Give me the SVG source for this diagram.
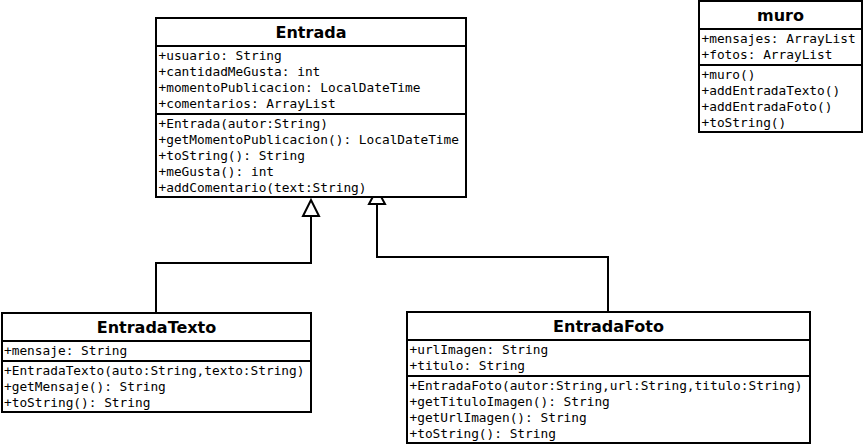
<svg xmlns="http://www.w3.org/2000/svg" width="865" height="446" viewBox="0 0 865 446">
<style>
.box{fill:#fff;stroke:#000;stroke-width:2}
.sep{stroke:#000;stroke-width:2}
.t{font-family:"DejaVu Sans",sans-serif;font-weight:bold;font-size:16px;text-anchor:middle}
.m{font-family:"DejaVu Sans Mono",monospace;font-size:12.8px}
.c{fill:none;stroke:#000;stroke-width:2}
.ah{fill:#fff;stroke:#000;stroke-width:2}
</style>
<rect width="865" height="446" fill="#fff"/>
<g id="connectors">
<path class="c" d="M156,313 V263 H311 V216"/>
<polygon class="ah" points="311,200 303,216 319,216"/>
<path class="c" d="M608,312 V257 H377 V204"/>
<polygon class="ah" points="377,189 369,204 385,204"/>
</g>
<g id="Entrada">
<rect class="box" x="156" y="18" width="310" height="179"/>
<line class="sep" x1="156" y1="46" x2="466" y2="46"/>
<line class="sep" x1="156" y1="114" x2="466" y2="114"/>
<text class="t" x="311" y="38">Entrada</text>
<text class="m" x="158.5" y="60">+usuario: String</text>
<text class="m" x="158.5" y="76">+cantidadMeGusta: int</text>
<text class="m" x="158.5" y="92">+momentoPublicacion: LocalDateTime</text>
<text class="m" x="158.5" y="108">+comentarios: ArrayList</text>
<text class="m" x="158.5" y="128">+Entrada(autor:String)</text>
<text class="m" x="158.5" y="144">+getMomentoPublicacion(): LocalDateTime</text>
<text class="m" x="158.5" y="160">+toString(): String</text>
<text class="m" x="158.5" y="176">+meGusta(): int</text>
<text class="m" x="158.5" y="192">+addComentario(text:String)</text>
</g>
<g id="muro">
<rect class="box" x="699" y="1" width="163" height="131"/>
<line class="sep" x1="699" y1="29" x2="862" y2="29"/>
<line class="sep" x1="699" y1="65" x2="862" y2="65"/>
<text class="t" x="780.5" y="21">muro</text>
<text class="m" x="701.5" y="43">+mensajes: ArrayList</text>
<text class="m" x="701.5" y="59">+fotos: ArrayList</text>
<text class="m" x="701.5" y="79">+muro()</text>
<text class="m" x="701.5" y="95">+addEntradaTexto()</text>
<text class="m" x="701.5" y="111">+addEntradaFoto()</text>
<text class="m" x="701.5" y="127">+toString()</text>
</g>
<g id="EntradaTexto">
<rect class="box" x="2" y="313" width="309" height="99"/>
<line class="sep" x1="2" y1="341" x2="311" y2="341"/>
<line class="sep" x1="2" y1="361" x2="311" y2="361"/>
<text class="t" x="156.5" y="333">EntradaTexto</text>
<text class="m" x="4" y="355">+mensaje: String</text>
<text class="m" x="4" y="375">+EntradaTexto(auto:String,texto:String)</text>
<text class="m" x="4" y="391">+getMensaje(): String</text>
<text class="m" x="4" y="407">+toString(): String</text>
</g>
<g id="EntradaFoto">
<rect class="box" x="407" y="312" width="403" height="131"/>
<line class="sep" x1="407" y1="340" x2="810" y2="340"/>
<line class="sep" x1="407" y1="376" x2="810" y2="376"/>
<text class="t" x="608.5" y="332">EntradaFoto</text>
<text class="m" x="409.5" y="354">+urlImagen: String</text>
<text class="m" x="409.5" y="370">+titulo: String</text>
<text class="m" x="409.5" y="390">+EntradaFoto(autor:String,url:String,titulo:String)</text>
<text class="m" x="409.5" y="406">+getTituloImagen(): String</text>
<text class="m" x="409.5" y="422">+getUrlImagen(): String</text>
<text class="m" x="409.5" y="438">+toString(): String</text>
</g>
</svg>
